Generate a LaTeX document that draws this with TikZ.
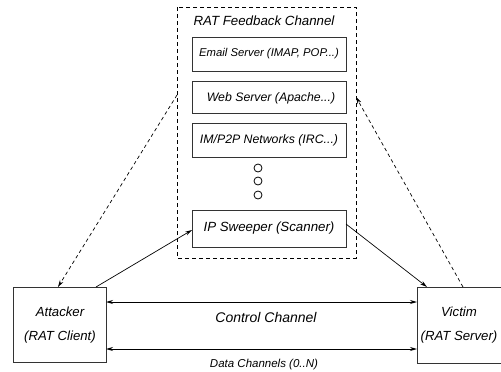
\documentclass[tikz,border=0pt]{standalone}
\usepackage{fontspec}
\setmainfont{Liberation Sans}
\usetikzlibrary{arrows.meta}
\begin{document}
\begin{tikzpicture}[x=1pt,y=-1pt,
  every node/.style={font=\itshape, inner sep=0pt},
  box/.style={draw=black!80, line width=0.9pt},
  frame/.style={draw, line width=0.8pt, dash pattern=on 4pt off 3pt},
  link/.style={line width=0.7pt, -{Stealth[length=7pt,width=4pt]}},
  duplex/.style={line width=0.9pt, {Stealth[length=7pt,width=4pt]}-{Stealth[length=7pt,width=4pt]}},
  dlink/.style={line width=0.7pt, dash pattern=on 3.5pt off 3pt, -{Stealth[length=7pt,width=4pt]}},
  dot/.style={draw, circle, line width=0.8pt, minimum size=8pt}]
\useasboundingbox (0,0) rectangle (501,372);

% feedback channel frame and its servers
\draw[frame] (177,7) rectangle (356,258);
\node[font=\itshape\fontsize{13.3}{15}\selectfont] (title) at (264,21) {RAT Feedback Channel};
\draw[box] (192,37) rectangle (346,71);
\node[font=\itshape\fontsize{11.3}{13}\selectfont] (email) at (269,54) {Email Server (IMAP, POP...)};
\draw[box] (192,81) rectangle (346,113);
\node[font=\itshape\fontsize{12.3}{14}\selectfont] (web) at (271,98) {Web Server (Apache...)};
\draw[box] (192,123) rectangle (346,157);
\node[font=\itshape\fontsize{12.3}{14}\selectfont] (im) at (269,140) {IM/P2P Networks (IRC...)};
\node[dot] (d1) at (258,168) {};
\node[dot] (d2) at (258,181) {};
\node[dot] (d3) at (258,195) {};
\draw[box] (192,210) rectangle (346,247);
\node[font=\itshape\fontsize{13.3}{15}\selectfont] (sweep) at (269,228) {IP Sweeper (Scanner)};

% end points on the frame and boxes
\coordinate (sweepW) at (192,230);
\coordinate (sweepE) at (346,224);
\coordinate (frameW) at (177,95);
\coordinate (frameE) at (356,97);

% attacker and victim
\draw[box] (13,287) rectangle (106,362);
\node[font=\itshape\fontsize{13.2}{15}\selectfont] (att1) at (60,312) {Attacker};
\node[font=\itshape\fontsize{13.2}{15}\selectfont] (att2) at (60,337) {(RAT Client)};
\draw[box] (417,287) -- (503,287) (417,287) -- (417,363) -- (503,363);
\node[font=\itshape\fontsize{13.2}{15}\selectfont] (vic1) at (459,312) {Victim};
\node[font=\itshape\fontsize{13.2}{15}\selectfont] (vic2) at (459,337) {(RAT Server)};

\coordinate (attTopR) at (96,287);
\coordinate (attTopL) at (58,287);
\coordinate (vicTopL) at (427,287);
\coordinate (vicTopR) at (463,287);
\coordinate (attE1) at (106,302);
\coordinate (attE2) at (106,349);
\coordinate (vicW1) at (417,302);
\coordinate (vicW2) at (417,349);

% connectors
\draw[link] (attTopR) -- (sweepW);
\draw[link] (sweepE) -- (vicTopL);
\draw[dlink] (frameW) -- (attTopL);
\draw[dlink] (vicTopR) -- (frameE);
\draw[duplex] (attE1) -- (vicW1);
\draw[duplex] (attE2) -- (vicW2);
\node[font=\itshape\fontsize{14}{16}\selectfont] (ctl) at (266,317) {Control Channel};
\node[font=\itshape\fontsize{11.5}{13}\selectfont] (data) at (264,365) {Data Channels (0..N)};
\end{tikzpicture}
\end{document}
